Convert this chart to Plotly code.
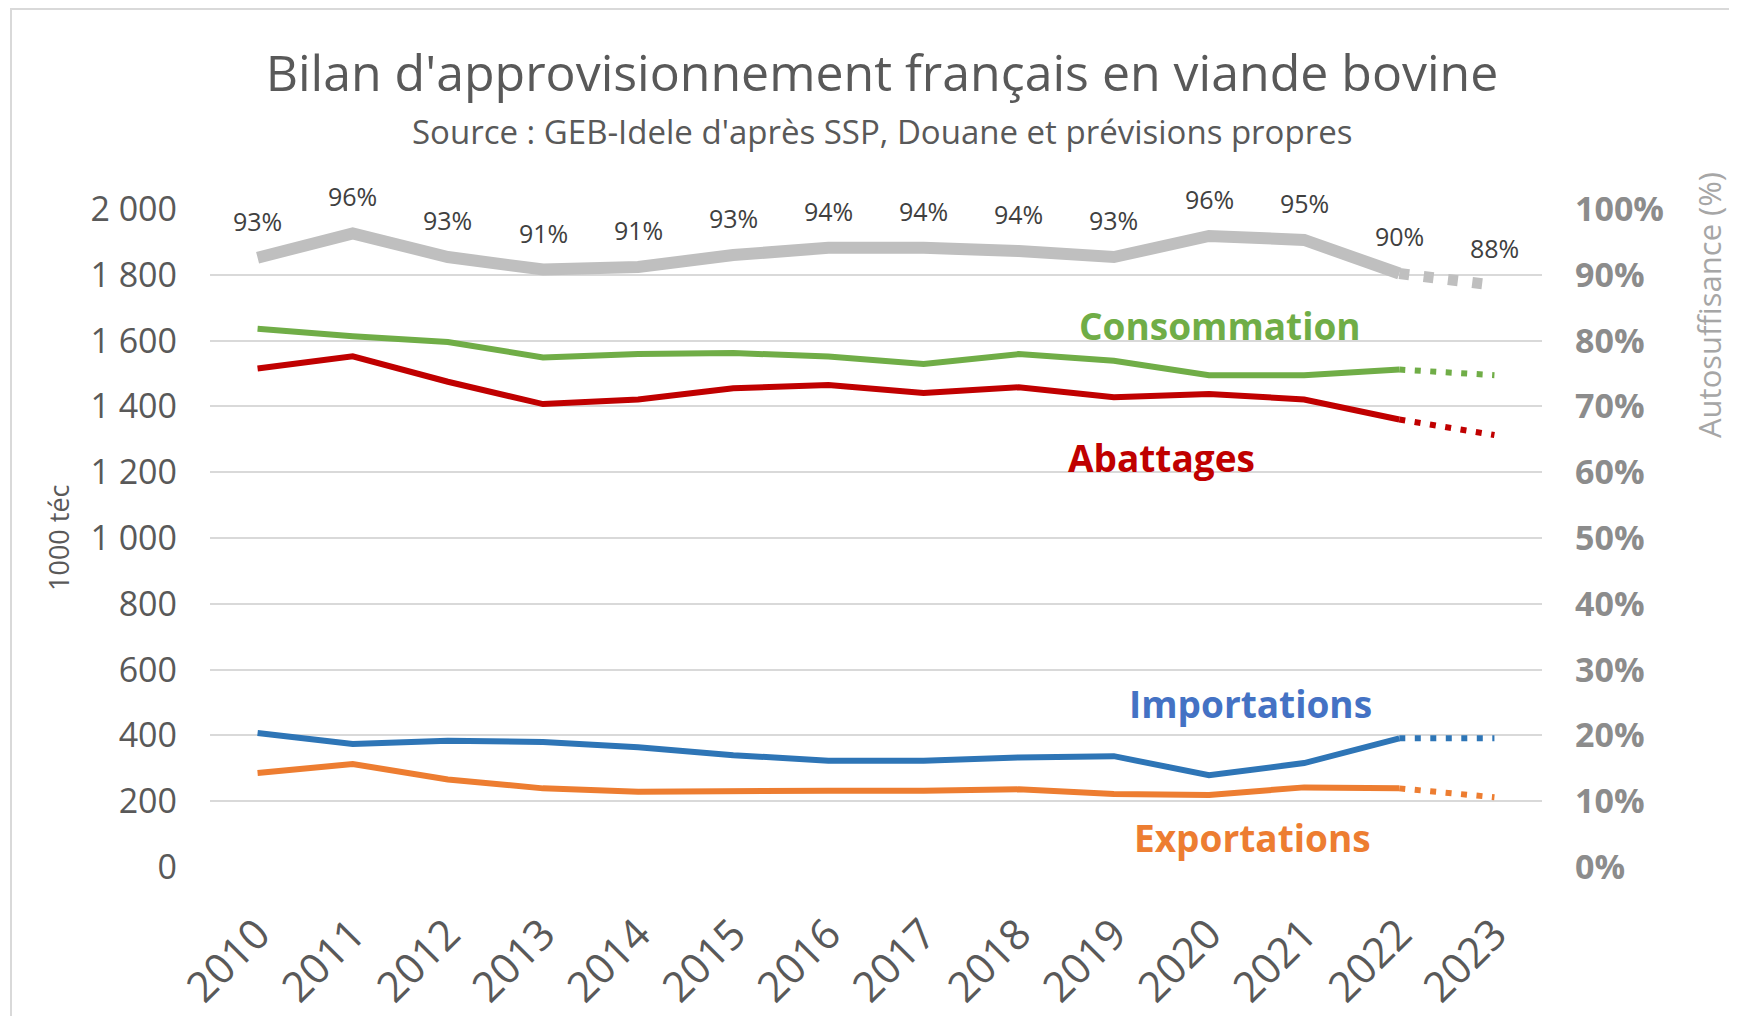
import plotly.graph_objects as go

annees = ["2010", "2011", "2012", "2013", "2014", "2015", "2016",
          "2017", "2018", "2019", "2020", "2021", "2022", "2023"]

# 1000 téc
consommation = [1636, 1613, 1596, 1549, 1559, 1562, 1552, 1529, 1559, 1539, 1495, 1495, 1512, 1495]
abattages = [1515, 1552, 1475, 1407, 1421, 1455, 1465, 1441, 1458, 1428, 1438, 1421, 1360, 1313]
importations = [407, 374, 384, 380, 364, 340, 323, 323, 333, 337, 279, 316, 391, 391]
exportations = [286, 313, 266, 239, 229, 232, 232, 232, 236, 222, 219, 242, 239, 212]

# %
autosuffisance = [92.6, 96.3, 92.7, 90.8, 91.2, 93.0, 94.1, 94.1, 93.6, 92.7, 95.9, 95.3, 90.2, 88.4]

FONT = "Open Sans"
GRIS_TXT = "#595959"

# la page ajoute 8 px de marge autour de la figure
OFF = 8
W, H = 1737 - 2 * OFF, 1024 - 2 * OFF
PL, PR, PT, PB = 210, 1542, 209, 867   # zone de tracé (coordonnées de la page)


def px2paper(px, py):
    return (px - PL) / (PR - PL), (PB - py) / (PB - PT)


fig = go.Figure()

series = [
    ("Consommation", consommation, "#70AD47"),
    ("Abattages", abattages, "#C00000"),
    ("Importations", importations, "#2E75B6"),
    ("Exportations", exportations, "#ED7D31"),
]

for nom, vals, coul in series:
    # partie réalisée
    fig.add_trace(go.Scatter(x=annees[:-1], y=vals[:-1], mode="lines", name=nom,
                             line=dict(color=coul, width=6), showlegend=False))
    # prévision 2023 en pointillés
    fig.add_trace(go.Scatter(x=annees[-2:], y=vals[-2:], mode="lines",
                             line=dict(color=coul, width=6, dash="6px,9.5px"),
                             showlegend=False))

# autosuffisance sur l'axe de droite
fig.add_trace(go.Scatter(x=annees[:-1], y=autosuffisance[:-1], mode="lines", yaxis="y2",
                         line=dict(color="#BFBFBF", width=12), showlegend=False))
fig.add_trace(go.Scatter(x=annees[-2:], y=autosuffisance[-2:], mode="lines", yaxis="y2",
                         line=dict(color="#BFBFBF", width=11, dash="10px,14.5px"),
                         showlegend=False))

# étiquettes de l'autosuffisance
for i, v in enumerate(autosuffisance):
    fig.add_annotation(x=i, y=v, xref="x", yref="y2", text=f"{round(v)}%", showarrow=False,
                       xanchor="center", yanchor="middle", yshift=37,
                       font=dict(family=FONT, size=25, color="#404040"))

# noms des séries
etiquettes = [
    ("Consommation", "#70AD47", 1220, 325),
    ("Abattages", "#C00000", 1161, 457),
    ("Importations", "#4472C4", 1250, 703),
    ("Exportations", "#ED7D31", 1252, 837),
]
for txt, coul, px, py in etiquettes:
    ax, ay = px2paper(px, py)
    fig.add_annotation(xref="paper", yref="paper", x=ax, y=ay, text=txt, showarrow=False,
                       xanchor="center", yanchor="middle",
                       font=dict(family=FONT, size=37, color=coul, weight="bold"))

# sous-titre et titres d'axes
ax, ay = px2paper(882, 131)
fig.add_annotation(xref="paper", yref="paper", x=ax, y=ay,
                   text="Source : GEB-Idele d'après SSP, Douane et prévisions propres",
                   showarrow=False, xanchor="center", yanchor="middle",
                   font=dict(family=FONT, size=33, color=GRIS_TXT))
ax, ay = px2paper(58, 538)
fig.add_annotation(xref="paper", yref="paper", x=ax, y=ay,
                   text="1000 téc", textangle=-90, showarrow=False,
                   xanchor="center", yanchor="middle",
                   font=dict(family=FONT, size=27, color=GRIS_TXT))
ax, ay = px2paper(1709, 305)
fig.add_annotation(xref="paper", yref="paper", x=ax, y=ay,
                   text="Autosuffisance (%)", textangle=-90, showarrow=False,
                   xanchor="center", yanchor="middle",
                   font=dict(family=FONT, size=31, color="#A6A6A6"))

# cadre du graphique
bx, by = px2paper(11, 9)
fig.add_shape(type="rect", xref="paper", yref="paper",
              x0=bx, x1=1.5, y0=-1, y1=by,
              line=dict(color="#D9D9D9", width=2), layer="below")

fig.update_layout(
    width=W, height=H, autosize=False,
    margin=dict(l=PL - OFF, r=W - (PR - OFF), t=PT - OFF, b=H - (PB - OFF)),
    paper_bgcolor="white", plot_bgcolor="white",
    separators=", ",
    font=dict(family=FONT, color=GRIS_TXT),
    title=dict(text="Bilan d'approvisionnement français en viande bovine",
               x=px2paper(882, 0)[0], xref="paper", xanchor="center",
               y=1 - (73 - OFF) / H, yanchor="middle",
               font=dict(family=FONT, size=50, color=GRIS_TXT)),
    xaxis=dict(type="category", range=[-0.5, 13.5], showgrid=False, zeroline=False,
               showline=False, ticks="", tickangle=-45, ticklabelstandoff=33,
               automargin=False,
               tickfont=dict(family=FONT, size=42, color=GRIS_TXT)),
    yaxis=dict(range=[0, 2000], dtick=200, separatethousands=True, showgrid=True,
               gridcolor="#D9D9D9", gridwidth=2, zeroline=False, showline=False,
               ticks="", ticklabelstandoff=32, automargin=False,
               tickfont=dict(family=FONT, size=34, color=GRIS_TXT)),
    yaxis2=dict(range=[0, 100], dtick=10, ticksuffix="%", overlaying="y", side="right",
                showgrid=False, zeroline=False, showline=False, ticks="",
                ticklabelstandoff=32, automargin=False,
                tickfont=dict(family=FONT, size=34, color="#8C8C8C", weight="bold")),
)

fig.write_html("out.html")
